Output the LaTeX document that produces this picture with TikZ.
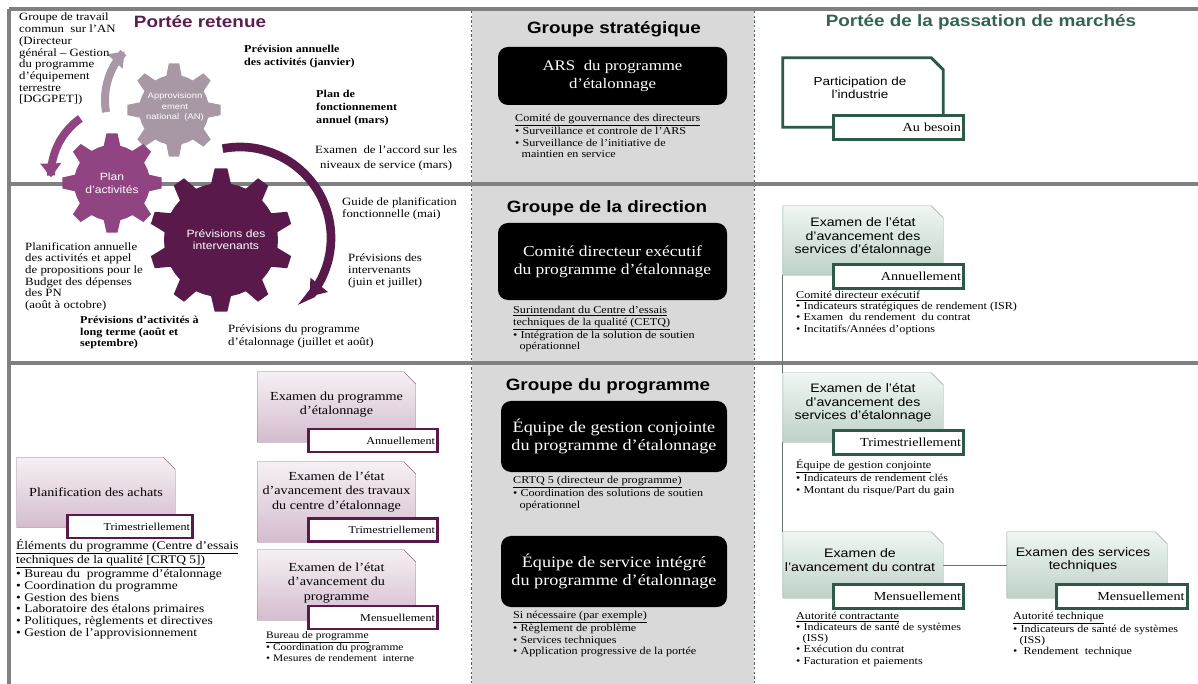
\documentclass[tikz,border=0pt]{standalone}
\usepackage{fontspec}
\setmainfont[FakeStretch=1.15]{Liberation Serif}
\setsansfont[FakeStretch=1.15]{Liberation Sans}
\usetikzlibrary{arrows.meta}

\definecolor{plumdark}{RGB}{90,25,75}
\definecolor{plummid}{RGB}{145,68,130}
\definecolor{plumgray}{RGB}{168,152,165}
\definecolor{plumtitle}{RGB}{92,30,80}
\definecolor{plumtop}{RGB}{246,240,245}
\definecolor{plumfill}{RGB}{212,188,206}
\definecolor{plumedge}{RGB}{140,105,132}
\definecolor{framegray}{RGB}{128,128,128}
\definecolor{colgray}{RGB}{217,217,217}
\definecolor{greentitle}{RGB}{50,100,80}
\definecolor{greenline}{RGB}{45,90,70}
\definecolor{greenedge}{RGB}{140,165,152}
\definecolor{greentop}{RGB}{240,246,243}
\definecolor{greenfill}{RGB}{190,210,200}

% gear: centre x, centre y, teeth, inner radius, outer radius, colour
\newcommand{\drawgear}[6]{%
	\fill[#6,shift={(#1,#2)}] ({90-180/#3}:#4)
		\foreach \k in {1,...,#3} {
			-- ({90+(\k-1.28)*360/#3}:#4) -- ({90+(\k-1.14)*360/#3}:#5)
			-- ({90+(\k-0.86)*360/#3}:#5) -- ({90+(\k-0.72)*360/#3}:#4)
			-- ({90+(\k-0.5)*360/#3}:#4)} -- cycle;}
% box outline with cut top right corner round a named node
\newcommand{\cutframe}[2]{%
	\path[#2] (#1.south west) -- (#1.north west) -- ([xshift=-0.36cm]#1.north east)
		-- ([yshift=-0.36cm]#1.north east) -- (#1.south east) -- cycle;}

\begin{document}
\begin{tikzpicture}[x=0.03cm,y=0.03cm,
	sep/.style={color=framegray,line width=0.12cm},
	coldash/.style={color=greenedge!60!black,dash pattern=on 2pt off 2pt,line width=0.5pt},
	head/.style={font=\sffamily\bfseries\fontsize{14}{16}\selectfont},
	noir/.style={fill=black,text=white,rounded corners=0.3cm,minimum width=6.87cm,align=center,font=\fontsize{13}{15}\selectfont},
	note/.style={anchor=north west,align=left,inner sep=0pt,font=\fontsize{9}{9.8}\selectfont},
	cutbox/.style={inner sep=0pt,minimum width=4.8cm,minimum height=2.07cm},
	plumbox/.style={draw=plumedge,top color=plumtop,bottom color=plumfill},
	plumtitle/.style={align=center,inner sep=0pt,font=\fontsize{10.5}{12}\selectfont},
	plumtag/.style={draw=plumdark,line width=2.5pt,fill=white,text width=3.6cm,minimum height=0.69cm,align=right,inner xsep=0.08cm,inner ysep=0pt,font=\fontsize{9}{10}\selectfont},
	greenbox/.style={draw=greenedge,top color=greentop,bottom color=greenfill},
	partbox/.style={draw=greenline,line width=2.5pt,fill=white},
	greentitle/.style={align=center,inner sep=0pt,font=\sffamily\fontsize{10.5}{11.5}\selectfont},
	greentag/.style={draw=greenline,line width=2.5pt,fill=white,text width=3.75cm,minimum height=0.72cm,align=right,inner xsep=0.08cm,inner ysep=0pt,font=\fontsize{10.5}{12}\selectfont},
	link/.style={draw=greenedge!70!black,line width=0.8pt},
	geartext/.style={text=white,align=center,font=\sffamily\fontsize{9}{10.5}\selectfont}]
\useasboundingbox (0,0) rectangle (1198,-684);

% frame and columns
\fill[colgray] (472,-11) rectangle (754,-684);
\draw[coldash] (471,-11) -- (471,-684);
\draw[coldash] (754,-11) -- (754,-684);
\draw[sep] (9,-9) -- (1198,-9);
\draw[sep] (9,-184) -- (1198,-184);
\draw[sep] (9,-363) -- (1198,-363);
\draw[sep] (9,-9) -- (9,-684);

% headings
\node[head,text=plumtitle] (porteeret) at (200,-22) {Portée retenue};
\node[head] (gstrat) at (614,-29) {Groupe stratégique};
\node[head] (gdir) at (607,-208) {Groupe de la direction};
\node[head] (gprog) at (608,-386) {Groupe du programme};
\node[head,text=greentitle] (porteemar) at (981,-22) {Portée de la passation de marchés};

% gears and cycle arrows
\drawgear{174}{-110}{8}{35}{47}{plumgray}
\drawgear{112}{-183}{8}{38}{50}{plummid}
\drawgear{221}{-240}{10}{57}{72}{plumdark}
\draw[color=plumgray,line width=0.24cm,-{Triangle[width=0.6cm,length=0.42cm]}] plot[domain=190:136,samples=30,smooth] ({175+70*cos(\x)},{-100+70*sin(\x)});
\draw[color=plummid,line width=0.24cm,-{Triangle[width=0.6cm,length=0.42cm]}] plot[domain=125:182,samples=30,smooth] ({120+69*cos(\x)},{-175+69*sin(\x)});
\draw[color=plumdark,line width=0.26cm,-{Triangle[width=0.65cm,length=0.45cm]}] plot[domain=101:-40,samples=50,smooth] ({240+91*cos(\x)},{-238+91*sin(\x)});
\node[geartext,font=\sffamily\fontsize{7}{9}\selectfont] (antext) at (175,-107) {Approvisionn\\ement\\national\ \ (AN)};
\node[geartext,font=\sffamily\fontsize{9}{11}\selectfont] (plantext) at (112,-183) {Plan\\d’activités};
\node[geartext] (bigtext) at (226,-240) {Prévisions des\\intervenants};

% cycle notes
\node[note,font=\fontsize{9.5}{10}\selectfont] (dggpet) at (19,-13) {Groupe de travail\\commun\ \ sur l’AN\\(Directeur\\général – Gestion\\du programme\\d’équipement\\terrestre\\{[DGGPET])}};
\node[note,font=\bfseries\fontsize{9}{11}\selectfont] (prevann) at (244,-45) {Prévision annuelle\\des activités (janvier)};
\node[note,font=\bfseries\fontsize{9}{11}\selectfont] (planfonc) at (316,-90) {Plan de\\fonctionnement\\annuel (mars)};
\node[note,align=center,font=\fontsize{9.5}{12}\selectfont] (examacc) at (315,-146) {Examen\ \ de l’accord sur les\\niveaux de service (mars)};
\node[note,font=\fontsize{9.5}{10.5}\selectfont] (guide) at (342,-197) {Guide de planification\\fonctionnelle (mai)};
\node[note,font=\fontsize{9.5}{10}\selectfont] (previnter) at (348,-254) {Prévisions des\\intervenants\\(juin et juillet)};
\node[note,font=\fontsize{9.5}{10.5}\selectfont] (prevprog) at (228,-325) {Prévisions du programme\\d’étalonnage (juillet et août)};
\node[note,font=\bfseries\fontsize{9}{10}\selectfont] (prevlong) at (80,-316) {Prévisions d’activités\ à\\long terme (août et\\septembre)};
\node[note,font=\fontsize{9.5}{10}\selectfont] (planann) at (25,-242) {Planification annuelle\\des activités et appel\\de propositions pour le\\Budget des dépenses\\des PN\\(août à octobre)};

% program reviews
\node[cutbox,minimum width=4.74cm,minimum height=2.1cm] (achats) at (96,-492.5) {};
\cutframe{achats}{plumbox}
\node[plumtitle] (achatstitle) at (achats.center) {Planification des achats};
\node[plumtag] (achatstag) at (130,-526.5) {Trimestriellement};
\node[cutbox,minimum width=4.74cm,minimum height=2.1cm] (exprog) at (336.5,-407) {};
\cutframe{exprog}{plumbox}
\node[plumtitle] (exprogtitle) at (336.5,-405) {Examen du programme\\d’étalonnage};
\node[plumtag,text width=3.72cm] (exprogtag) at (373,-440.5) {Annuellement};
\node[cutbox,minimum width=4.74cm,minimum height=2.4cm] (extrav) at (336.5,-502) {};
\cutframe{extrav}{plumbox}
\node[plumtitle] (extravtitle) at (336.5,-492) {Examen de l’état\\d’avancement des travaux\\du centre d’étalonnage};
\node[plumtag,text width=3.72cm] (extravtag) at (373,-530) {Trimestriellement};
\node[cutbox,minimum width=4.74cm,minimum height=2.1cm] (exavprog) at (336.5,-585) {};
\cutframe{exavprog}{plumbox}
\node[plumtitle] (exavprogtitle) at (336.5,-583) {Examen de l’état\\d’avancement du\\programme};
\node[plumtag,text width=3.72cm] (exavprogtag) at (373,-617.5) {Mensuellement};
\node[note,font=\fontsize{10}{10}\selectfont] (elements) at (16,-539) {\underline{Éléments du programme (Centre d’essais}\\\underline{techniques de la qualité [CRTQ 5])}\\• Bureau du\ \ programme d’étalonnage\\• Coordination du programme\\• Gestion des biens\\• Laboratoire des étalons primaires\\• Politiques, règlements et directives\\• Gestion de l’approvisionnement};
\node[note,font=\fontsize{8.5}{9}\selectfont] (bureausub) at (266,-631) {\underline{Bureau de programme}\\• Coordination du programme\\• Mesures de rendement\ \ interne};

% governance boxes
\node[noir,minimum height=1.74cm,font=\fontsize{12.5}{15}\selectfont] (ars) at (612.5,-76) {ARS\ \ du programme\\d’étalonnage};
\node[note] (arssub) at (515,-114) {\underline{Comité de gouvernance des directeurs}\\• Surveillance et controle de l’ARS\\• Surveillance de l’initiative de\\\hspace*{0.6em}maintien en service};
\node[noir,minimum height=2.31cm] (comite) at (612.5,-261.5) {Comité directeur exécutif\\du programme d’étalonnage};
\node[note] (comsub) at (513,-306) {\underline{Surintendant du Centre d’essais}\\\underline{techniques de la qualité (CETQ)}\\• Intégration de la solution de soutien\\\hspace*{0.6em}opérationnel};
\node[noir,minimum width=6.78cm,minimum height=2.13cm,font=\fontsize{13.5}{16}\selectfont] (gestion) at (614,-436.5) {Équipe de gestion conjointe\\du programme d’étalonnage};
\node[note] (gestsub) at (513,-476) {\underline{CRTQ 5 (directeur de programme)}\\• Coordination des solutions de soutien\\\hspace*{0.6em}opérationnel};
\node[noir,minimum width=6.78cm,minimum height=2.13cm,font=\fontsize{13.5}{16}\selectfont] (service) at (614,-571.5) {Équipe de service intégré\\du programme d’étalonnage};
\node[note] (servsub) at (513,-611) {\underline{Si nécessaire (par exemple)}\\• Règlement de problème\\• Services techniques\\• Application progressive de la portée};

% procurement reviews
\node[cutbox] (partic) at (863,-92.5) {};
\cutframe{partic}{partbox}
\node[greentitle,font=\sffamily\fontsize{10}{11}\selectfont] (partictitle) at (860,-88) {Participation de\\l’industrie};
\node[greentag] (partictag) at (898.5,-127.5) {Au besoin};
\node[cutbox] (svca) at (863,-240.5) {};
\node[cutbox] (svcb) at (863,-407.5) {};
\node[cutbox,minimum height=1.98cm] (contrat) at (863,-565) {};
\node[cutbox,minimum height=1.98cm] (techn) at (1087,-565) {};
\draw[link] (svca.south west) -- (svcb.north west);
\draw[link] (svcb.south west) -- (contrat.north west);
\draw[link] (contrat.east) -- (techn.west);
\cutframe{svca}{greenbox}
\node[greentitle] (svcatitle) at (863,-237) {Examen de l’état\\d’avancement des\\services d’étalonnage};
\node[greentag] (svcatag) at (898.5,-276.5) {Annuellement};
\cutframe{svcb}{greenbox}
\node[greentitle] (svcbtitle) at (863,-403) {Examen de l’état\\d’avancement des\\services d’étalonnage};
\node[greentag] (svcbtag) at (898.5,-442.5) {Trimestriellement};
\cutframe{contrat}{greenbox}
\node[greentitle] (contrattitle) at (860,-560) {Examen de\\l’avancement du contrat};
\node[greentag] (contrattag) at (898.5,-596.5) {Mensuellement};
\cutframe{techn}{greenbox}
\node[greentitle] (techntitle) at (1083,-560) {Examen des services\\techniques};
\node[greentag] (techntag) at (1122,-596.5) {Mensuellement};
\node[note,font=\fontsize{9}{9.5}\selectfont] (svcasub) at (796,-291) {\underline{Comité directeur exécutif}\\• Indicateurs stratégiques de rendement (ISR)\\• Examen\ \ du rendement\ \ du contrat\\• Incitatifs/Années d’options};
\node[note,font=\fontsize{9}{10}\selectfont] (svcbsub) at (796,-459) {\underline{Équipe de gestion conjointe}\\• Indicateurs de rendement clés\\• Montant du risque/Part du gain};
\node[note,font=\fontsize{9}{9.5}\selectfont] (contratsub) at (796,-612) {\underline{Autorité contractante}\\• Indicateurs de santé de systèmes\\\hspace*{0.6em}(ISS)\\• Exécution du contrat\\• Facturation et paiements};
\node[note,font=\fontsize{9}{9.5}\selectfont] (technsub) at (1013,-612) {\underline{Autorité technique}\\• Indicateurs de santé de systèmes\\\hspace*{0.6em}(ISS)\\•\ \ Rendement\ \ technique};
\end{tikzpicture}
\end{document}
